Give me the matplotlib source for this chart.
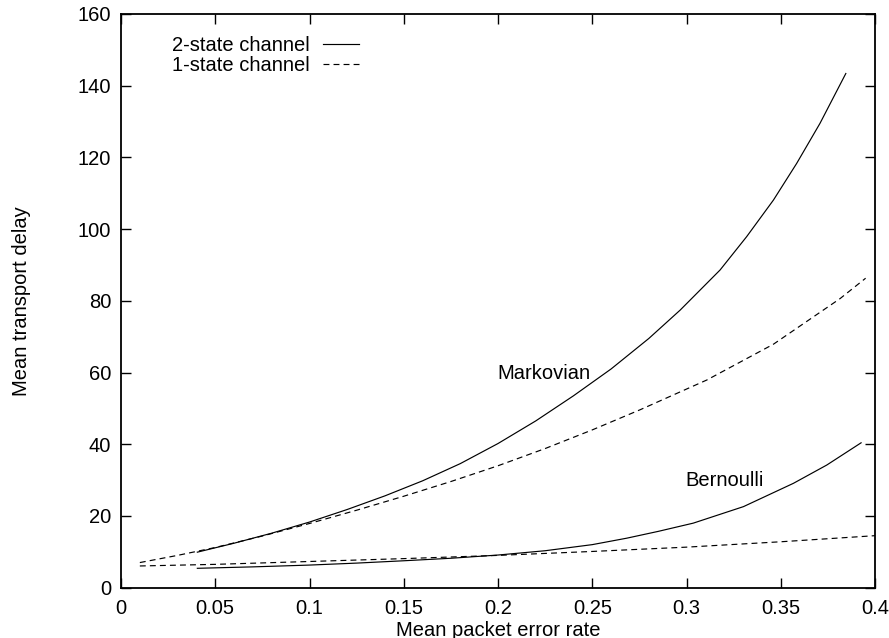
import matplotlib
matplotlib.use("Agg")
import matplotlib.pyplot as plt

plt.rcParams["font.family"] = ["Liberation Sans", "DejaVu Sans"]
plt.rcParams["font.size"] = 14.5

# Markovian curves (2-state and 1-state channel)
mark_x2 = [0.0405, 0.06, 0.08, 0.1, 0.12, 0.14, 0.16, 0.18, 0.2, 0.22,
           0.24, 0.26, 0.28, 0.2966, 0.3178, 0.3319, 0.3461, 0.3584, 0.3708, 0.3845]
mark_y2 = [9.9, 12.4, 15.2, 18.3, 21.8, 25.6, 29.8, 34.6, 40.2, 46.5,
           53.5, 61.0, 69.5, 77.4, 88.6, 97.9, 108.1, 118.3, 129.5, 143.4]
mark_x1 = [0.01, 0.03, 0.05, 0.075, 0.1, 0.125, 0.15, 0.175, 0.2, 0.225,
           0.25, 0.2753, 0.3107, 0.3461, 0.3814, 0.395]
mark_y1 = [7.0, 9.0, 11.2, 14.4, 17.9, 21.6, 25.5, 29.6, 34.0, 38.8,
           44.0, 49.6, 57.9, 67.9, 80.6, 86.3]

# Bernoulli curves
bern_x2 = [0.0405, 0.07, 0.1, 0.125, 0.15, 0.175, 0.2, 0.225, 0.25, 0.2683,
           0.2850, 0.3036, 0.3302, 0.3567, 0.3744, 0.3926]
bern_y2 = [5.4, 5.8, 6.3, 6.85, 7.5, 8.2, 9.1, 10.3, 12.0, 13.8,
           15.7, 18.0, 22.6, 29.1, 34.2, 40.4]
bern_x1 = [0.01, 0.05, 0.1, 0.15, 0.2, 0.25, 0.3, 0.35, 0.4]
bern_y1 = [6.05, 6.5, 7.3, 8.1, 9.0, 10.1, 11.3, 12.8, 14.5]

xticks = [0, 0.05, 0.1, 0.15, 0.2, 0.25, 0.3, 0.35, 0.4]
xtick_labels = ["0", "0.05", "0.1", "0.15", "0.2", "0.25", "0.3", "0.35", "0.4"]
yticks = [0, 20, 40, 60, 80, 100, 120, 140, 160]

fig = plt.figure(figsize=(8.89, 6.38), dpi=100)
ax = fig.add_axes([0.1361, 0.0789, 0.8482, 0.8992])

dash = (0, (5, 3.5))
ax.plot(mark_x2, mark_y2, color="black", lw=0.85, label="2-state channel")
ax.plot(mark_x1, mark_y1, color="black", lw=0.85, linestyle=dash, label="1-state channel")
ax.plot(bern_x2, bern_y2, color="black", lw=0.85)
ax.plot(bern_x1, bern_y1, color="black", lw=0.85, linestyle=dash)

ax.text(0.2246, 59.8, "Markovian", ha="center", va="center")
ax.text(0.3204, 30.0, "Bernoulli", ha="center", va="center")

ax.set_xlim(0, 0.4)
ax.set_ylim(0, 160)
ax.set_xticks(xticks)
ax.set_xticklabels(xtick_labels)
ax.set_yticks(yticks)
ax.tick_params(direction="in", length=7, width=1, top=True, right=True, pad=7)
ax.tick_params(axis="x", pad=8.5)
for s in ax.spines.values():
    s.set_linewidth(1.3)

ax.set_xlabel("Mean packet error rate", labelpad=1.5)
ax.set_ylabel("Mean transport delay")
ax.yaxis.set_label_coords(-0.12, 0.5)

ax.legend(loc="upper left", bbox_to_anchor=(0.0672, 0.962), frameon=False,
          markerfirst=False, handlelength=1.8, handletextpad=0.65,
          labelspacing=0.05, borderpad=0, borderaxespad=0)

plt.savefig("out.png", dpi=100)
